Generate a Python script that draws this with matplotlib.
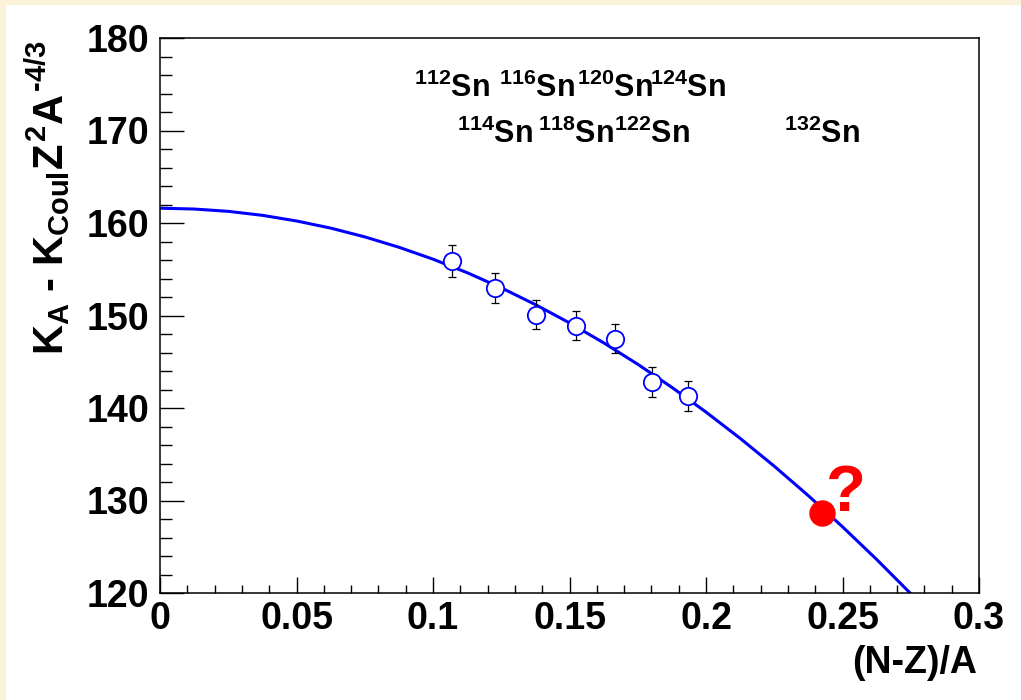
import matplotlib
matplotlib.use("Agg")
import matplotlib.pyplot as plt
from matplotlib.patches import Rectangle
from matplotlib.ticker import MultipleLocator

plt.rcParams['font.family'] = ['Liberation Sans', 'DejaVu Sans']
plt.rcParams['font.weight'] = 'bold'
plt.rcParams['mathtext.fontset'] = 'custom'
plt.rcParams['mathtext.rm'] = 'Liberation Sans:bold'
plt.rcParams['mathtext.it'] = 'Liberation Sans:bold'
plt.rcParams['mathtext.bf'] = 'Liberation Sans:bold'

# measured Sn isotopes: (N-Z)/A, K_A - K_Coul Z^2 A^-4/3, error
isotopes = ["112", "114", "116", "118", "120", "122", "124"]
asym = [0.1071, 0.1228, 0.1379, 0.1525, 0.1667, 0.1803, 0.1935]
kval = [155.9, 153.0, 150.1, 148.9, 147.5, 142.8, 141.3]
kerr = [1.7, 1.6, 1.6, 1.6, 1.6, 1.6, 1.6]

# fit curve
fit_x = [0.0, 0.0125, 0.025, 0.0375, 0.05, 0.0625, 0.075, 0.0875, 0.1, 0.1125,
         0.125, 0.1375, 0.15, 0.1625, 0.175, 0.1875, 0.2, 0.2125, 0.225, 0.2375,
         0.25, 0.2625, 0.275]
fit_y = [161.60, 161.51, 161.26, 160.83, 160.22, 159.45, 158.50, 157.38, 156.09, 154.63,
         152.99, 151.18, 149.20, 147.05, 144.73, 142.23, 139.56, 136.72, 133.71, 130.52,
         127.16, 123.63, 119.93]

# 132Sn (unknown)
sn132_label = "132"
sn132_x = 0.2424
sn132_y = 128.7

fig = plt.figure(figsize=(10.21, 7), dpi=100)
fig.patches.append(Rectangle((0, 0), 5 / 1021, 1, transform=fig.transFigure,
                             color='#fcf1da', zorder=0))
fig.patches.append(Rectangle((0, 1 - 4 / 700), 1, 4 / 700, transform=fig.transFigure,
                             color='#fcf1da', zorder=0))

ax = fig.add_axes([160 / 1021, 107 / 700, 819 / 1021, 555 / 700])

ax.plot(fit_x, fit_y, color='#0000ff', lw=2.2, solid_joinstyle='round', zorder=2)
ax.errorbar(asym, kval, yerr=kerr, fmt='none', ecolor='black', elinewidth=0.9,
            capsize=2.6, capthick=0.9, zorder=3)
ax.plot(asym, kval, 'o', ms=12.5, mfc='white', mec='#0000ff', mew=1.3, zorder=4)
ax.plot([sn132_x], [sn132_y], 'o', ms=18, color='#ff0000', zorder=5)
ax.annotate('?', xy=(sn132_x, sn132_y), xytext=(3, 1), textcoords='offset points',
            ha='left', va='baseline', color='#ff0000', fontsize=47, fontweight='bold')

# isotope labels above the points, alternating rows
for i, (name, x) in enumerate(zip(isotopes, asym)):
    yrow = 173.65 if i % 2 == 0 else 168.65
    ax.text(x, yrow, r'$^{%s}\mathrm{Sn}$' % name, ha='center', va='baseline', fontsize=22)
ax.text(sn132_x, 168.65, r'$^{%s}\mathrm{Sn}$' % sn132_label, ha='center', va='baseline',
        fontsize=22)

ax.set_xlim(0, 0.3)
ax.set_ylim(120, 180)
ax.xaxis.set_major_locator(MultipleLocator(0.05))
ax.xaxis.set_minor_locator(MultipleLocator(0.01))
ax.yaxis.set_major_locator(MultipleLocator(10))
ax.yaxis.set_minor_locator(MultipleLocator(2))
ax.set_xticks([0, 0.05, 0.1, 0.15, 0.2, 0.25, 0.3])
ax.set_xticklabels(['0', '0.05', '0.1', '0.15', '0.2', '0.25', '0.3'])

ax.tick_params(axis='x', which='major', direction='in', length=11.5, width=1.0,
               labelsize=27, pad=6)
ax.tick_params(axis='x', which='minor', direction='in', length=5.8, width=1.0)
ax.tick_params(axis='y', which='major', direction='in', length=17.3, width=1.0,
               labelsize=27, pad=8)
ax.tick_params(axis='y', which='minor', direction='in', length=8.6, width=1.0)
for lab in ax.get_xticklabels() + ax.get_yticklabels():
    lab.set_fontweight('bold')
for s in ax.spines.values():
    s.set_linewidth(1.1)

fig.text(977 / 1021, 1 - 673 / 700, '(N-Z)/A', ha='right', va='baseline',
         fontsize=27, fontweight='bold')
fig.text(24 / 1021, 1 - 40 / 700, r'$K_A$ - $K_{Coul}Z^2A^{\text{-4/3}}$', rotation=90,
         ha='left', va='top', fontsize=30, fontweight='bold')

fig.savefig('out.png', dpi=100, facecolor='white')
